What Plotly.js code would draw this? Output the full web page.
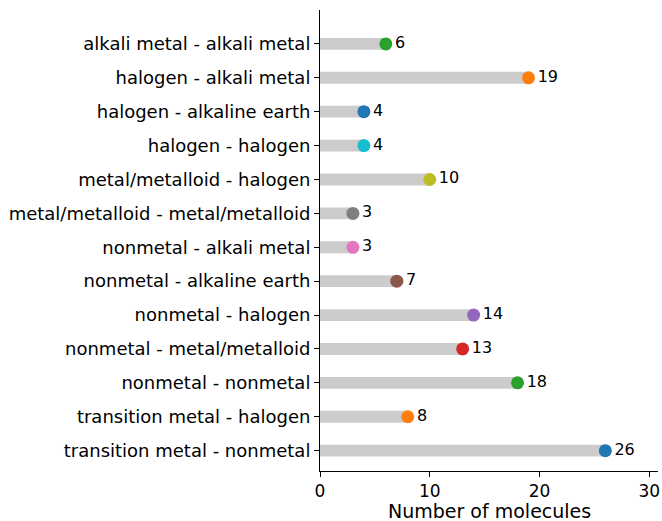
<!DOCTYPE html>
<html>
<head>
<meta charset="utf-8">
<script src="https://cdn.plot.ly/plotly-3.0.1.min.js"></script>
<style>html,body{margin:0;padding:0;background:#fff;}#chart{width:662px;height:521px;}</style>
</head>
<body>
<div id="chart"></div>
<script>
// Categories listed bottom to top
const categories = [
  "transition metal - nonmetal",
  "transition metal - halogen",
  "nonmetal - nonmetal",
  "nonmetal - metal/metalloid",
  "nonmetal - halogen",
  "nonmetal - alkaline earth",
  "nonmetal - alkali metal",
  "metal/metalloid - metal/metalloid",
  "metal/metalloid - halogen",
  "halogen - halogen",
  "halogen - alkaline earth",
  "halogen - alkali metal",
  "alkali metal - alkali metal"
];
const counts = [26, 8, 18, 13, 14, 7, 3, 3, 10, 4, 4, 19, 6];
const markerColors = ["#1f77b4","#ff7f0e","#2ca02c","#d62728","#9467bd","#8c564b","#e377c2","#7f7f7f","#bcbd22","#17becf","#1f77b4","#ff7f0e","#2ca02c"];
const xTitle = "Number of molecules";

const font = "DejaVu Sans, sans-serif";

const bars = {
  type: "bar",
  orientation: "h",
  x: counts,
  y: categories,
  width: 0.35,
  marker: {color: "#cccccc", line: {width: 0}},
  hoverinfo: "skip",
  showlegend: false
};
const dots = {
  type: "scatter",
  mode: "markers+text",
  x: counts,
  y: categories,
  text: counts.map(v => String(v)),
  textposition: "middle right",
  textfont: {family: font, size: 16, color: "#000"},
  marker: {color: markerColors, size: 13, line: {width: 0}},
  cliponaxis: false,
  showlegend: false
};

const layout = {
  width: 662,
  height: 521,
  margin: {l: 320, r: 4, t: 10, b: 50, autoexpand: false},
  paper_bgcolor: "#fff",
  plot_bgcolor: "#fff",
  font: {family: font, color: "#000"},
  xaxis: {
    range: [0, 30.8],
    tickvals: [0, 10, 20, 30],
    ticks: "outside",
    ticklen: 5,
    tickcolor: "#000",
    showline: true,
    linecolor: "#000",
    linewidth: 1,
    showgrid: false,
    zeroline: false,
    automargin: false,
    tickfont: {family: font, size: 17, color: "#000"}
  },
  yaxis: {
    type: "category",
    categoryorder: "array",
    categoryarray: categories,
    range: [-0.6, 13],
    ticks: "outside",
    ticklen: 5,
    tickcolor: "#000",
    showline: true,
    linecolor: "#000",
    linewidth: 1,
    showgrid: false,
    zeroline: false,
    automargin: false,
    tickfont: {family: font, size: 18, color: "#000"}
  },
  annotations: [{
    text: xTitle,
    xref: "paper", yref: "paper",
    x: 0.5, y: -50 / 461,
    xanchor: "center", yanchor: "bottom",
    yshift: -3,
    showarrow: false,
    font: {family: font, size: 19, color: "#000"}
  }]
};

Plotly.newPlot("chart", [bars, dots], layout, {displayModeBar: false, staticPlot: true});
</script>
</body>
</html>
